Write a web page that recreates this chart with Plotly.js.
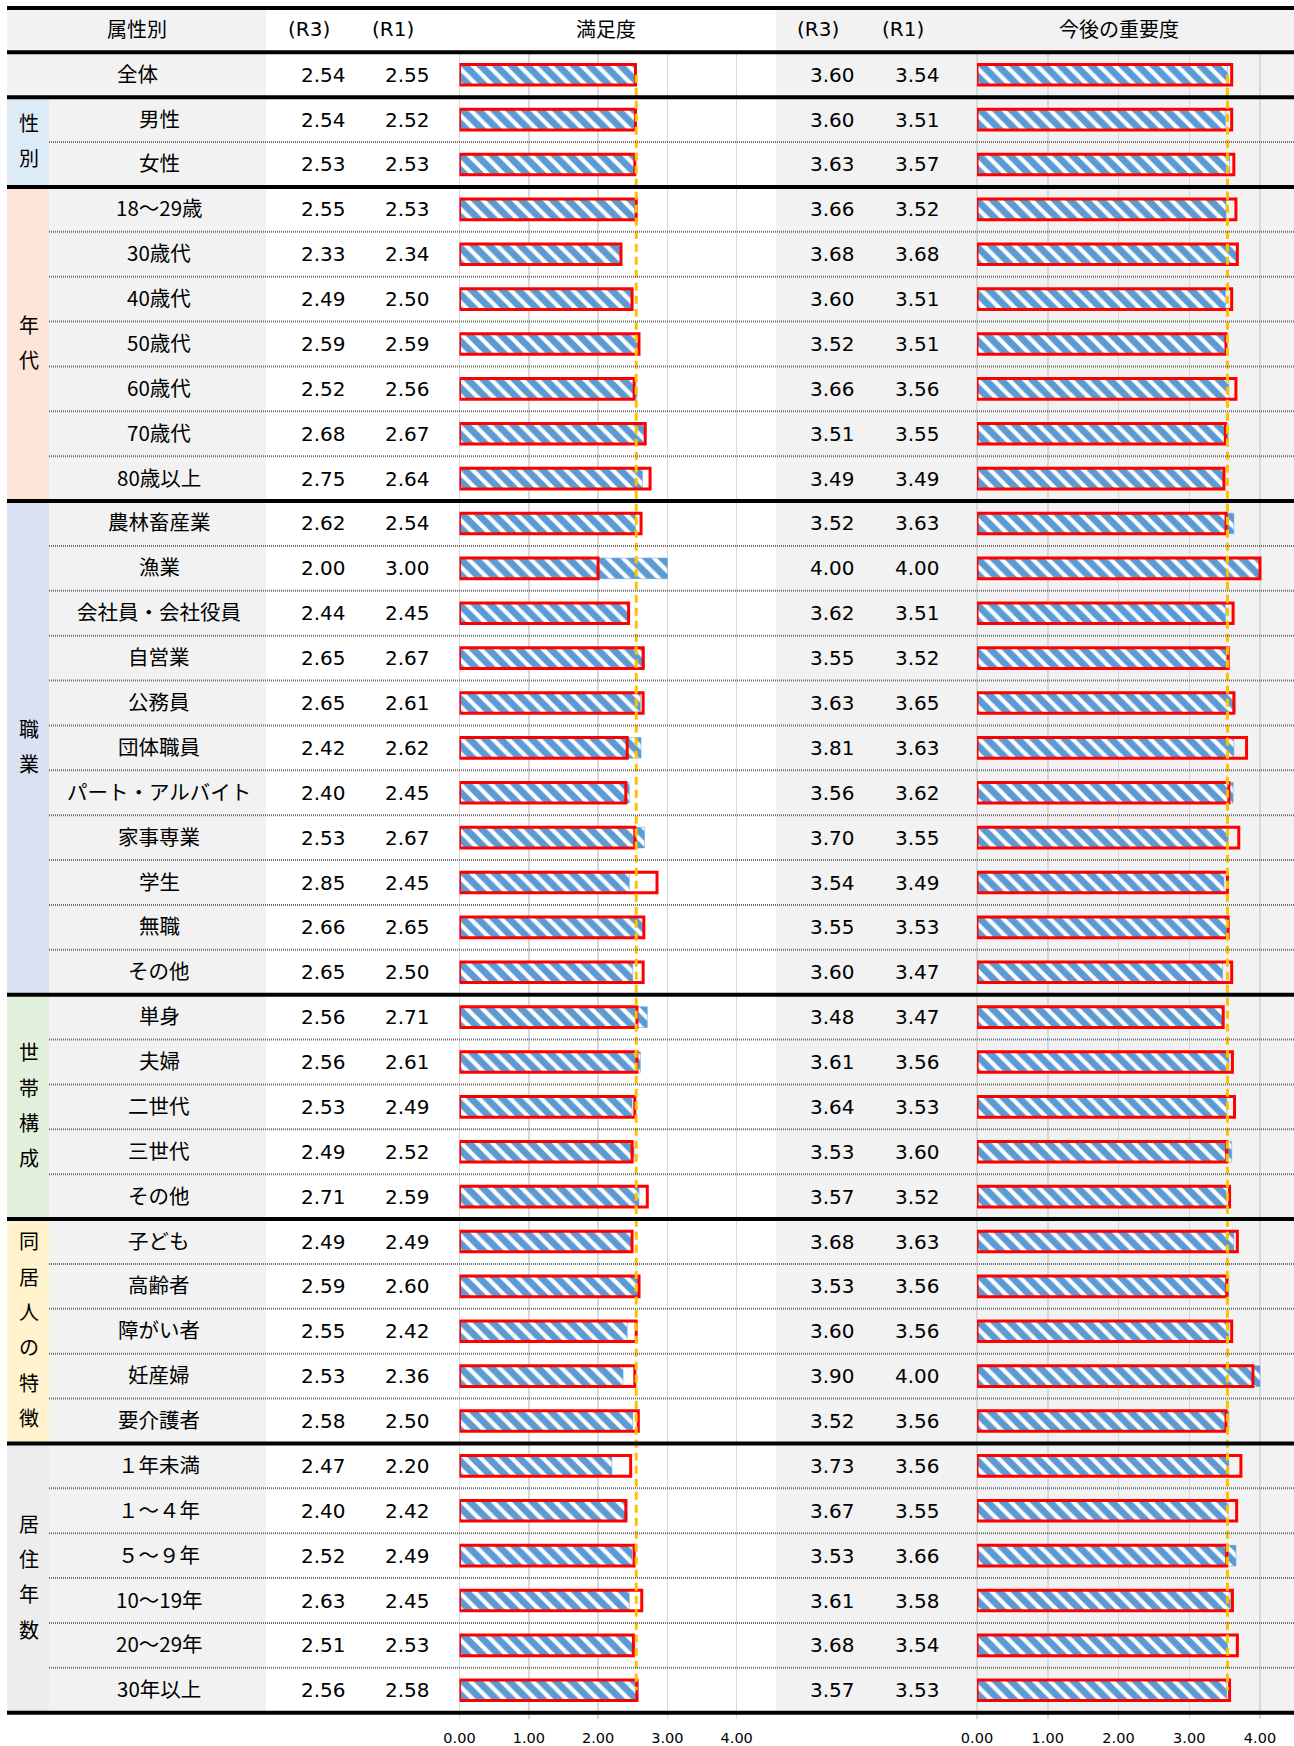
<!DOCTYPE html>
<html>
<head>
<meta charset="utf-8">
<script src="https://cdn.plot.ly/plotly-3.0.1.min.js"></script>
<style>
  html, body { margin: 0; padding: 0; background: #ffffff; }
  #chart { width: 1294px; height: 1746px; }
</style>
</head>
<body>
<div id="chart"></div>
<script>
// ---------------- DATA ----------------
const groupNames = ['全体', '性別', '年代', '職業', '世帯構成', '同居人の特徴', '居住年数'];
const groupSizes = [1, 2, 7, 11, 5, 5, 6];
const categories = [
  '全体',
  '男性', '女性',
  '18～29歳', '30歳代', '40歳代', '50歳代', '60歳代', '70歳代', '80歳以上',
  '農林畜産業', '漁業', '会社員・会社役員', '自営業', '公務員', '団体職員', 'パート・アルバイト', '家事専業', '学生', '無職', 'その他',
  '単身', '夫婦', '二世代', '三世代', 'その他',
  '子ども', '高齢者', '障がい者', '妊産婦', '要介護者',
  '１年未満', '１～４年', '５～９年', '10～19年', '20～29年', '30年以上'
];
const satisfactionR3 = [
  2.54,
  2.54, 2.53,
  2.55, 2.33, 2.49, 2.59, 2.52, 2.68, 2.75,
  2.62, 2.00, 2.44, 2.65, 2.65, 2.42, 2.40, 2.53, 2.85, 2.66, 2.65,
  2.56, 2.56, 2.53, 2.49, 2.71,
  2.49, 2.59, 2.55, 2.53, 2.58,
  2.47, 2.40, 2.52, 2.63, 2.51, 2.56
];
const satisfactionR1 = [
  2.55,
  2.52, 2.53,
  2.53, 2.34, 2.50, 2.59, 2.56, 2.67, 2.64,
  2.54, 3.00, 2.45, 2.67, 2.61, 2.62, 2.45, 2.67, 2.45, 2.65, 2.50,
  2.71, 2.61, 2.49, 2.52, 2.59,
  2.49, 2.60, 2.42, 2.36, 2.50,
  2.20, 2.42, 2.49, 2.45, 2.53, 2.58
];
const importanceR3 = [
  3.60,
  3.60, 3.63,
  3.66, 3.68, 3.60, 3.52, 3.66, 3.51, 3.49,
  3.52, 4.00, 3.62, 3.55, 3.63, 3.81, 3.56, 3.70, 3.54, 3.55, 3.60,
  3.48, 3.61, 3.64, 3.53, 3.57,
  3.68, 3.53, 3.60, 3.90, 3.52,
  3.73, 3.67, 3.53, 3.61, 3.68, 3.57
];
const importanceR1 = [
  3.54,
  3.51, 3.57,
  3.52, 3.68, 3.51, 3.51, 3.56, 3.55, 3.49,
  3.63, 4.00, 3.51, 3.52, 3.65, 3.63, 3.62, 3.55, 3.49, 3.53, 3.47,
  3.47, 3.56, 3.53, 3.60, 3.52,
  3.63, 3.56, 3.56, 4.00, 3.56,
  3.56, 3.55, 3.66, 3.58, 3.54, 3.53
];
const columnHeaders = ['属性別', '(R3)', '(R1)', '満足度', '(R3)', '(R1)', '今後の重要度'];
const tickValues = [0, 1, 2, 3, 4];

// ---------------- LAYOUT GEOMETRY / STYLE ----------------
const W = 1294, H = 1746;
const TOP_LINE = 8, HEAD_BOTTOM = 52.3, TABLE_BOTTOM = 1712.7;
const n = categories.length;
const ROW_H = (TABLE_BOTTOM - HEAD_BOTTOM) / n;
const px = v => v / W;
const py = v => 1 - v / H;
const rowTop = i => HEAD_BOTTOM + i * ROW_H;

const X_TABLE_L = 7, X_GROUP_R = 49, X_LABEL_R = 266, X_RIGHT_L = 776;
const GRAY = '#F2F2F2';
const groupColors = ['#F2F2F2', '#DDEBF7', '#FCE4D6', '#D9E1F2', '#E2EFDA', '#FFF2CC', '#EDEDED'];
const BLUE = '#5B9BD5', RED = '#FF0000', ORANGE = '#FFC000', GRID = '#D9D9D9';
const CJK = '"Noto Sans CJK JP", "Noto Sans", sans-serif';
const NUM = '"DejaVu Sans", "Noto Sans", sans-serif';

// axis calibration: left 0 -> 459.5px, 69.3px/unit ; right 0 -> 977px, 70.75px/unit
const XMAX = 4.4;
const leftDomain = [px(459.5), px(459.5 + XMAX * 69.3)];
const rightDomain = [px(977), px(977 + XMAX * 70.75)];

const rowIdx = categories.map((_, i) => i);

// ---------------- TRACES ----------------
function hatched(xs, xa) {
  return {
    type: 'bar', orientation: 'h', x: xs, y: rowIdx, xaxis: xa, yaxis: 'y',
    width: 0.46, hoverinfo: 'skip',
    marker: {
      color: BLUE,
      line: { color: BLUE, width: 0.5 },
      pattern: { shape: '\\', fillmode: 'replace', bgcolor: BLUE, fgcolor: '#FFFFFF', fgopacity: 1, size: 11, solidity: 0.38 }
    }
  };
}
function outlined(xs, xa) {
  return {
    type: 'bar', orientation: 'h', x: xs, y: rowIdx, xaxis: xa, yaxis: 'y',
    width: 0.46, hoverinfo: 'skip',
    marker: { color: 'rgba(0,0,0,0)', line: { color: RED, width: 3 } }
  };
}
function avgLine(v, xa) {
  return {
    type: 'scatter', mode: 'lines', x: [v, v], y: [0, n - 1], xaxis: xa, yaxis: 'y',
    hoverinfo: 'skip', line: { color: ORANGE, width: 3, dash: '8px,5px' }
  };
}
const data = [
  hatched(satisfactionR1, 'x'), outlined(satisfactionR3, 'x'), avgLine(satisfactionR1[0], 'x'),
  hatched(importanceR1, 'x2'), outlined(importanceR3, 'x2'), avgLine(importanceR1[0], 'x2')
];

// ---------------- SHAPES ----------------
const shapes = [];
function rect(x0, y0, x1, y1, color) {
  shapes.push({ type: 'rect', xref: 'paper', yref: 'paper', x0: px(x0), x1: px(x1), y0: py(y0), y1: py(y1),
    fillcolor: color, line: { width: 0 }, layer: 'below' });
}
function hline(y, x0, x1, width, color, dash) {
  shapes.push({ type: 'line', xref: 'paper', yref: 'paper', x0: px(x0), x1: px(x1), y0: py(y), y1: py(y),
    line: { color: color, width: width, dash: dash || 'solid' }, layer: 'above' });
}
// header backgrounds
rect(X_TABLE_L, TOP_LINE, X_LABEL_R, HEAD_BOTTOM, GRAY);
rect(X_RIGHT_L, TOP_LINE, W, HEAD_BOTTOM, GRAY);
// body backgrounds
rect(X_RIGHT_L, HEAD_BOTTOM, W, TABLE_BOTTOM, GRAY);
rect(X_GROUP_R, HEAD_BOTTOM, X_LABEL_R, TABLE_BOTTOM, GRAY);
let start = 0;
const groupStarts = [];
groupSizes.forEach((sz, g) => {
  groupStarts.push(start);
  const x1 = g === 0 ? X_LABEL_R : X_GROUP_R;
  rect(X_TABLE_L, rowTop(start), x1, rowTop(start + sz), groupColors[g]);
  start += sz;
});
// dotted separators within groups
groupSizes.forEach((sz, g) => {
  for (let k = 1; k < sz; k++) {
    hline(rowTop(groupStarts[g] + k), X_GROUP_R, W, 2, '#6E6E6E', '1px,1px');
  }
});
// thick lines
hline(TOP_LINE, X_TABLE_L, W, 4, '#000000');
hline(HEAD_BOTTOM, X_TABLE_L, W, 4, '#000000');
groupSizes.forEach((sz, g) => {
  hline(rowTop(groupStarts[g] + sz), X_TABLE_L, W, 4, '#000000');
});

// ---------------- ANNOTATIONS ----------------
const annotations = [];
function txt(text, xPx, y, yref, font, size, yshift) {
  annotations.push({ text: text, xref: 'paper', x: px(xPx), yref: yref, y: y,
    xanchor: 'center', yanchor: 'middle', showarrow: false, yshift: yshift || 0,
    font: { family: font, size: size, color: '#000000' } });
}
const headY = py((TOP_LINE + HEAD_BOTTOM) / 2 - 1.5);
const headX = [137, 309, 393, 606, 818, 903, 1119];
const headFonts = [CJK, NUM, NUM, CJK, NUM, NUM, CJK];
columnHeaders.forEach((h, i) => txt(h, headX[i], headY, 'paper', headFonts[i], 20));

categories.forEach((c, i) => {
  txt(c, i === 0 ? 137 : 159, i, 'y', CJK, 20.5, 2);
  txt(satisfactionR3[i].toFixed(2), 323.5, i, 'y', NUM, 20);
  txt(satisfactionR1[i].toFixed(2), 407.5, i, 'y', NUM, 20);
  txt(importanceR3[i].toFixed(2), 833, i, 'y', NUM, 20);
  txt(importanceR1[i].toFixed(2), 917.5, i, 'y', NUM, 20);
});

// vertical group labels (one character per line)
const CHAR_STEP = 0.787; // in rows
groupNames.forEach((gname, g) => {
  if (g === 0) return;
  const chars = Array.from(gname);
  const center = groupStarts[g] + (groupSizes[g] - 1) / 2;
  chars.forEach((ch, k) => {
    txt(ch, 28.5, center + (k - (chars.length - 1) / 2) * CHAR_STEP, 'y', CJK, 20, 2);
  });
});

// ---------------- AXES ----------------
function xAxis(domain) {
  return {
    domain: domain, range: [0, XMAX], anchor: 'y',
    tickvals: tickValues, tickformat: '.2f',
    showgrid: true, gridcolor: GRID, gridwidth: 1.5,
    zeroline: true, zerolinecolor: GRID, zerolinewidth: 1.5,
    showline: false,
    ticks: 'outside', ticklen: 5, tickcolor: GRID, tickwidth: 1.5,
    ticklabelstandoff: 7,
    tickfont: { family: NUM, size: 14.5, color: '#000000' },
    fixedrange: true
  };
}

const layout = {
  width: W, height: H,
  margin: { l: 0, r: 0, t: 0, b: 0, pad: 0 },
  paper_bgcolor: '#FFFFFF', plot_bgcolor: 'rgba(0,0,0,0)',
  showlegend: false,
  barmode: 'overlay',
  font: { family: CJK, color: '#000000' },
  xaxis: xAxis(leftDomain),
  xaxis2: xAxis(rightDomain),
  yaxis: {
    domain: [py(TABLE_BOTTOM), py(HEAD_BOTTOM)],
    range: [n - 0.5, -0.5],
    showticklabels: false, showgrid: false, zeroline: false, showline: false, ticks: '',
    fixedrange: true
  },
  shapes: shapes,
  annotations: annotations
};

Plotly.newPlot('chart', data, layout, { staticPlot: true, displayModeBar: false });
</script>
</body>
</html>
